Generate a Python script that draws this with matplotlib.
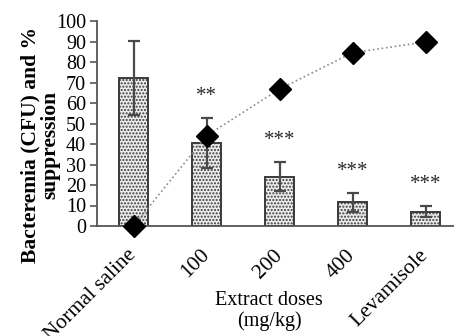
import matplotlib
matplotlib.use("Agg")
import matplotlib.pyplot as plt

categories = ["Normal saline", "100", "200", "400", "Levamisole"]
bacteremia = [72.2, 40.5, 24.0, 11.5, 7.0]
bacteremia_err = [18.0, 12.3, 7.0, 4.8, 2.8]
suppression = [0.0, 44.0, 66.8, 84.5, 89.8]
significance = ["", "**", "***", "***", "***"]
yticks = [0, 10, 20, 30, 40, 50, 60, 70, 80, 90, 100]

plt.rcParams['font.family'] = ['Liberation Serif', 'DejaVu Serif']
plt.rcParams['hatch.color'] = '#8a8a8a'
plt.rcParams['hatch.linewidth'] = 1.0

fig = plt.figure(figsize=(4.54, 3.36), dpi=100)
ax = fig.add_axes([97/454, 1 - 226/336, 365/454, 205/336])

x = list(range(len(categories)))
ax.bar(x, bacteremia, width=0.41, facecolor='#ececec', edgecolor='#3a3a3a',
       linewidth=1.4, hatch='.....', zorder=2)
ax.errorbar(x, bacteremia, yerr=bacteremia_err, fmt='none', ecolor='#4a4a4a',
            elinewidth=1.6, capsize=4.5, capthick=1.6, zorder=3)
ax.plot(x, suppression, linestyle=':', color='#8c8c8c', linewidth=1.2,
        marker='D', markersize=11.5, markerfacecolor='black',
        markeredgecolor='black', zorder=4, clip_on=False)

for xi, m, e, s in zip(x, bacteremia, bacteremia_err, significance):
    if s:
        ax.text(xi, m + e + 10.5, s, ha='center', va='center', fontsize=15,
                color='#2a2a2a')

ax.set_xlim(-0.5, 4.5)
ax.set_ylim(0, 100)
ax.set_yticks(yticks)
ax.set_xticks(x)
ax.set_xticklabels(categories, rotation=45, ha='right', va='center',
                   rotation_mode='anchor', fontsize=15.5)
ax.tick_params(axis='x', length=0, pad=19)
ax.tick_params(axis='y', length=5, width=1.2, color='#555555', labelsize=14.5,
               pad=3)
for sp in ['top', 'right']:
    ax.spines[sp].set_visible(False)
for sp in ['left', 'bottom']:
    ax.spines[sp].set_color('#555555')
    ax.spines[sp].set_linewidth(1.3)

ax.set_ylabel("Bacteremia (CFU) and %\nsuppression", fontsize=15.5,
              fontweight='bold', linespacing=1.0)
ax.yaxis.set_label_coords(-0.101, 0.395)

fig.text(269/454, 1 - 311/336, "Extract doses\n(mg/kg)", ha='center',
         va='center', fontsize=14.5, linespacing=1.1)

fig.savefig("out.png", dpi=100)
